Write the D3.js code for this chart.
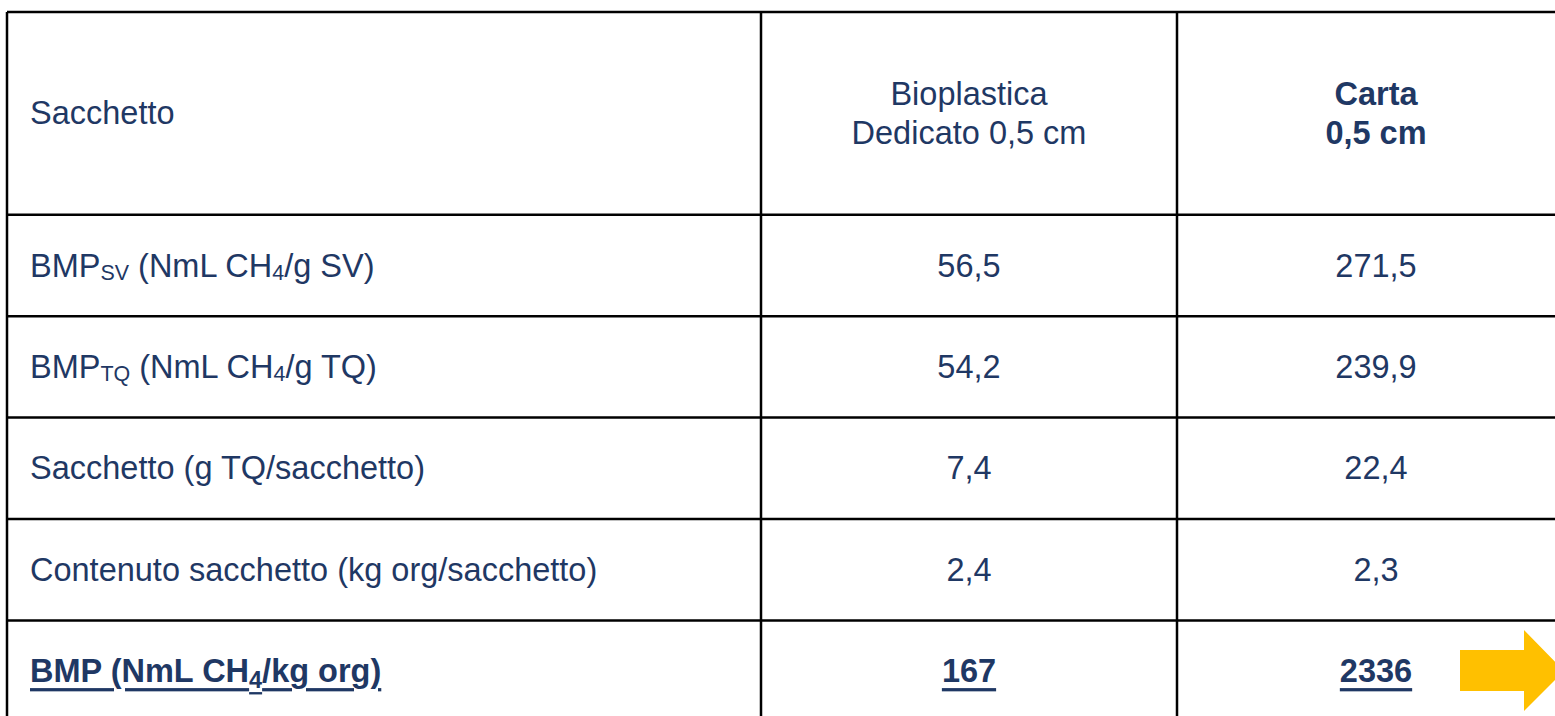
<!DOCTYPE html>
<html>
<head>
<meta charset="utf-8">
<script src="https://cdn.jsdelivr.net/npm/d3@7"></script>
<style>
  html, body { margin: 0; padding: 0; background: #fff; overflow: hidden; }
  svg { display: block; }
</style>
</head>
<body>
<div id="chart"></div>
<script>
/* BMP table: bioplastic vs paper bag */

const headerLabel = 'Sacchetto';
const columnHeaders = [['Bioplastica', 'Dedicato 0,5 cm'], ['Carta', '0,5 cm']];
const headerBold = [false, true];

// _{..} marks a subscript
const rowLabels = [
  'BMP_{SV} (NmL CH_{4}/g SV)',
  'BMP_{TQ} (NmL CH_{4}/g TQ)',
  'Sacchetto (g TQ/sacchetto)',
  'Contenuto sacchetto (kg org/sacchetto)',
  'BMP (NmL CH_{4}/kg org)'
];
const bioValues = ['56,5', '54,2', '7,4', '2,4', '167'];
const cartaValues = ['271,5', '239,9', '22,4', '2,3', '2336'];
const totalRow = 4; // bold + underlined

const W = 1555, H = 716;
const ink = '#1f3864';
const font = '"Liberation Sans", Arial, sans-serif';
const fs = 32.5;

const svg = d3.select('#chart').append('svg')
  .attr('width', W).attr('height', H);

// row units: header takes 2, each data row 1
const y = d3.scaleLinear().domain([0, 7]).range([12, 12 + 7 * 101.4]);
const colEdges = [7, 761, 1177, 1575];
const rowMid = i => (y(i + 2) + y(i + 3)) / 2;

// grid lines
const grid = svg.append('g').attr('stroke', '#000').attr('stroke-width', 2.5);
d3.range(0, 8).filter(k => k !== 1).forEach(k => {
  grid.append('line').attr('x1', colEdges[0]).attr('x2', colEdges[3])
    .attr('y1', y(k)).attr('y2', y(k));
});
colEdges.forEach(x => {
  grid.append('line').attr('x1', x).attr('x2', x).attr('y1', y(0)).attr('y2', y(7));
});

function richText(g, str, opts) {
  const t = g.append('text')
    .attr('x', opts.x).attr('y', opts.y)
    .attr('text-anchor', opts.anchor || 'start')
    .attr('dominant-baseline', 'central')
    .attr('font-family', font).attr('font-size', fs)
    .attr('font-weight', opts.bold ? 700 : 400)
    .attr('fill', ink);
  if (opts.underline) t.attr('text-decoration', 'underline');
  const parts = str.split(/(_\{[^}]*\})/).filter(s => s.length);
  let shift = 0;
  parts.forEach(p => {
    if (p.startsWith('_{')) {
      const big = opts.underline;
      const d = big ? 9 : 7;
      t.append('tspan').attr('font-size', big ? fs * 0.72 : fs * 0.66)
        .attr('dy', d - shift).text(p.slice(2, -1));
      shift = d;
    } else {
      t.append('tspan').attr('dy', -shift).text(p);
      shift = 0;
    }
  });
  return t;
}

const cells = svg.append('g');

// header row
const headMid = (y(0) + y(2)) / 2;
richText(cells, headerLabel, { x: 30, y: headMid });
columnHeaders.forEach((lines, c) => {
  const cx = (colEdges[c + 1] + colEdges[c + 2]) / 2;
  lines.forEach((ln, j) => {
    richText(cells, ln, { x: cx, y: headMid - 19 + j * 39, anchor: 'middle', bold: headerBold[c] });
  });
});

// data rows
rowLabels.forEach((lab, i) => {
  const tot = i === totalRow;
  richText(cells, lab, { x: 30, y: rowMid(i), bold: tot, underline: tot });
  [bioValues[i], cartaValues[i]].forEach((v, c) => {
    const cx = (colEdges[c + 1] + colEdges[c + 2]) / 2;
    richText(cells, v, { x: cx, y: rowMid(i), anchor: 'middle', bold: tot, underline: tot });
  });
});

// yellow arrow next to the total row
const ay = rowMid(totalRow);
const arrow = d3.path();
arrow.moveTo(1460, ay - 21);
arrow.lineTo(1524, ay - 21);
arrow.lineTo(1524, ay - 41);
arrow.lineTo(1564, ay);
arrow.lineTo(1524, ay + 40);
arrow.lineTo(1524, ay + 20);
arrow.lineTo(1460, ay + 20);
arrow.closePath();
svg.append('path').attr('d', arrow.toString()).attr('fill', '#ffc000');
</script>
</body>
</html>
